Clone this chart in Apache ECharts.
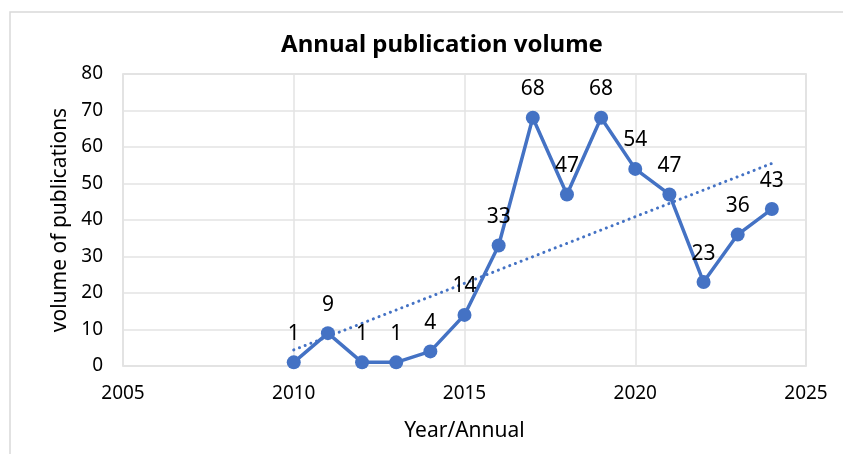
<!DOCTYPE html>
<html>
<head>
<meta charset="utf-8">
<script src="https://cdn.jsdelivr.net/npm/echarts@6/dist/echarts.min.js"></script>
<style>
  html, body { margin: 0; padding: 0; background: #fff; }
  #chart { width: 843px; height: 454px; }
</style>
</head>
<body>
<div id="chart"></div>
<script>
var years = [2010, 2011, 2012, 2013, 2014, 2015, 2016, 2017, 2018, 2019, 2020, 2021, 2022, 2023, 2024];
var counts = [1, 9, 1, 1, 4, 14, 33, 68, 47, 68, 54, 47, 23, 36, 43];
// linear trend line endpoints
var trendYears = [2010, 2024];
var trendValues = [4.4, 55.5];

var font = 'Noto Sans';
var blue = '#4472C4';

var chart = echarts.init(document.getElementById('chart'));

var option = {
  animation: false,
  title: {
    text: 'Annual publication volume',
    left: 437,
    textAlign: 'center',
    top: 28,
    textStyle: { fontFamily: font, fontSize: 24, fontWeight: 'bold', color: '#000' }
  },
  graphic: [{
    type: 'rect',
    shape: { x: 10, y: 12, width: 900, height: 500 },
    style: { fill: 'none', stroke: '#d9d9d9', lineWidth: 1.5 },
    silent: true
  }],
  grid: { left: 123, right: 37, top: 74, bottom: 88, show: true, borderColor: '#d9d9d9', borderWidth: 1.5 },
  xAxis: {
    type: 'value',
    min: 2005,
    max: 2025,
    interval: 5,
    name: 'Year/Annual',
    nameLocation: 'middle',
    nameGap: 55,
    nameTextStyle: { fontFamily: font, fontSize: 21, color: '#000' },
    axisLine: { show: false },
    axisTick: { show: false },
    axisLabel: {
      fontFamily: font, fontSize: 19, color: '#000', margin: 18,
      formatter: function (v) { return String(v); }
    },
    splitLine: { lineStyle: { color: '#e3e3e3', width: 1.5 } }
  },
  yAxis: {
    type: 'value',
    min: 0,
    max: 80,
    interval: 10,
    name: 'volume of publications',
    nameLocation: 'middle',
    nameGap: 50,
    nameTextStyle: { fontFamily: font, fontSize: 21, color: '#000' },
    axisLine: { show: false },
    axisTick: { show: false },
    axisLabel: { fontFamily: font, fontSize: 19, color: '#000', margin: 20 },
    splitLine: { lineStyle: { color: '#e3e3e3', width: 1.5 } }
  },
  series: [
    {
      type: 'line',
      data: trendYears.map(function (y, i) { return [y, trendValues[i]]; }),
      symbol: 'none',
      lineStyle: { color: blue, width: 3, type: [0.1, 6], cap: 'round' },
      z: 1
    },
    {
      type: 'line',
      data: years.map(function (y, i) { return [y, counts[i]]; }),
      symbol: 'circle',
      symbolSize: 14,
      itemStyle: { color: blue },
      lineStyle: { color: blue, width: 3.5 },
      label: {
        show: true,
        position: 'top',
        distance: 11,
        fontFamily: font,
        fontSize: 21,
        color: '#000'
      },
      z: 2
    }
  ]
};

chart.setOption(option);
window.onresize = function () { chart.resize(); };
</script>
</body>
</html>
